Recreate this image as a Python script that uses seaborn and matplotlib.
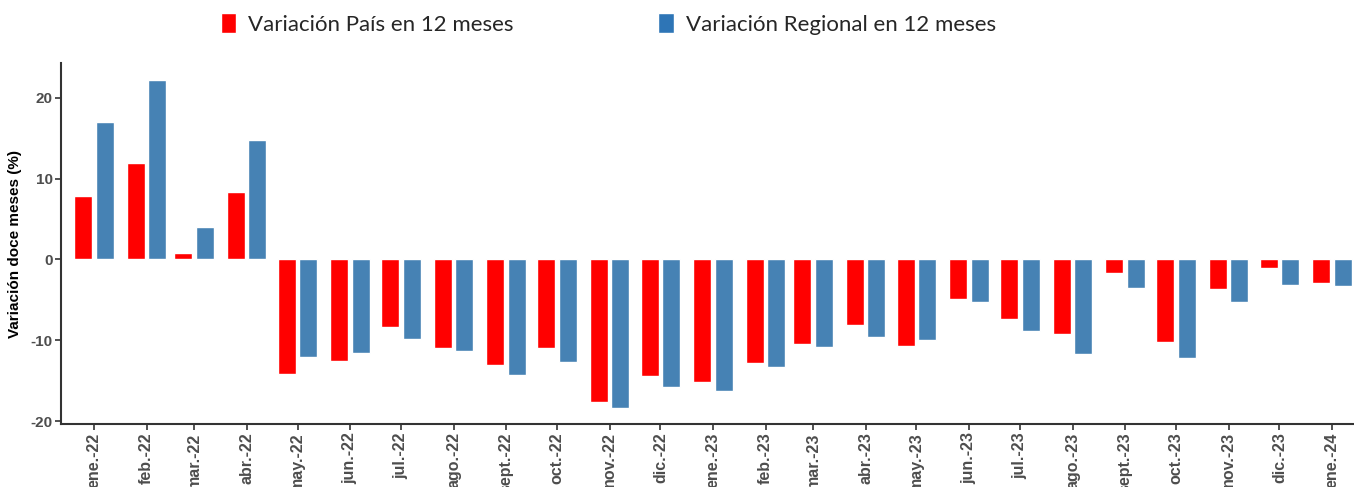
import numpy as np
import pandas as pd
import matplotlib
matplotlib.use("Agg")
import matplotlib.pyplot as plt
import matplotlib.dates as mdates
from matplotlib.patches import Patch
import seaborn as sns

meses = ["ene.-22", "feb.-22", "mar.-22", "abr.-22", "may.-22", "jun.-22",
         "jul.-22", "ago.-22", "sept.-22", "oct.-22", "nov.-22", "dic.-22",
         "ene.-23", "feb.-23", "mar.-23", "abr.-23", "may.-23", "jun.-23",
         "jul.-23", "ago.-23", "sept.-23", "oct.-23", "nov.-23", "dic.-23",
         "ene.-24"]
fechas = pd.date_range("2022-01-01", "2024-01-01", freq="MS")

var_pais = [7.9, 11.9, 0.8, 8.3, -14.1, -12.6, -8.3, -10.9, -13.0, -10.9, -17.6, -14.4,
            -15.1, -12.8, -10.4, -8.1, -10.7, -4.9, -7.4, -9.2, -1.7, -10.2, -3.7, -1.1,
            -2.9]
var_regional = [17.0, 22.2, 4.0, 14.8, -12.0, -11.6, -9.8, -11.3, -14.3, -12.7, -18.3, -15.7,
                -16.2, -13.3, -10.8, -9.6, -9.9, -5.3, -8.9, -11.7, -3.5, -12.2, -5.3, -3.2,
                -3.3]

serie_pais = "Variación País en 12 meses"
serie_reg = "Variación Regional en 12 meses"

# fechas como numeros para que las barras respeten la escala de dias
x = mdates.date2num(fechas)
df = pd.DataFrame({
    "fecha": np.concatenate([x, x]),
    "valor": var_pais + var_regional,
    "serie": [serie_pais] * len(x) + [serie_reg] * len(x),
})

sns.set_style("white")
plt.rcParams["font.family"] = ["Liberation Sans", "DejaVu Sans"]

fig = plt.figure(figsize=(13.54, 4.87), dpi=100)
ax = fig.add_axes([61 / 1354, 63 / 487, (1354 - 61) / 1354, 361 / 487])

sns.barplot(data=df, x="fecha", y="valor", hue="serie", native_scale=True,
            palette={serie_pais: "#FF0000", serie_reg: "#4682B4"}, saturation=1,
            width=0.905, gap=0.16, legend=False, ax=ax)

ax.set_xlim(x[0] - 19.5, x[-1] + 13)
ax.set_ylim(-20.33, 24.27)
ax.set_xticks(x)
ax.set_xticklabels(meses, rotation=90, fontweight="bold", fontsize=11.5, color="#4D4D4D")
ax.set_yticks([-20, -10, 0, 10, 20])
ax.set_yticklabels(["-20", "-10", "0", "10", "20"], fontweight="bold", fontsize=11, color="#4D4D4D")
ax.tick_params(axis="both", direction="out", length=4, width=1.2, color="#333333",
               left=True, bottom=True, pad=2)
ax.set_xlabel("")
ax.set_ylabel("Variación doce meses (%)", fontweight="bold", fontsize=11, color="black", labelpad=6)

for s in ["top", "right"]:
    ax.spines[s].set_visible(False)
for s in ["left", "bottom"]:
    ax.spines[s].set_color("#333333")
    ax.spines[s].set_linewidth(1.5)

handles = [Patch(facecolor="#FF0000", label=serie_pais),
           Patch(facecolor="#2E75B6", label=serie_reg)]
fig.legend(handles=handles, loc="center", bbox_to_anchor=(0.4494, 0.951), ncol=2,
           frameon=False, prop={"family": "Lato", "size": 16},
           handlelength=0.7, handleheight=1.0, handletextpad=0.55, columnspacing=6.5)

fig.savefig("out.png", dpi=100)
